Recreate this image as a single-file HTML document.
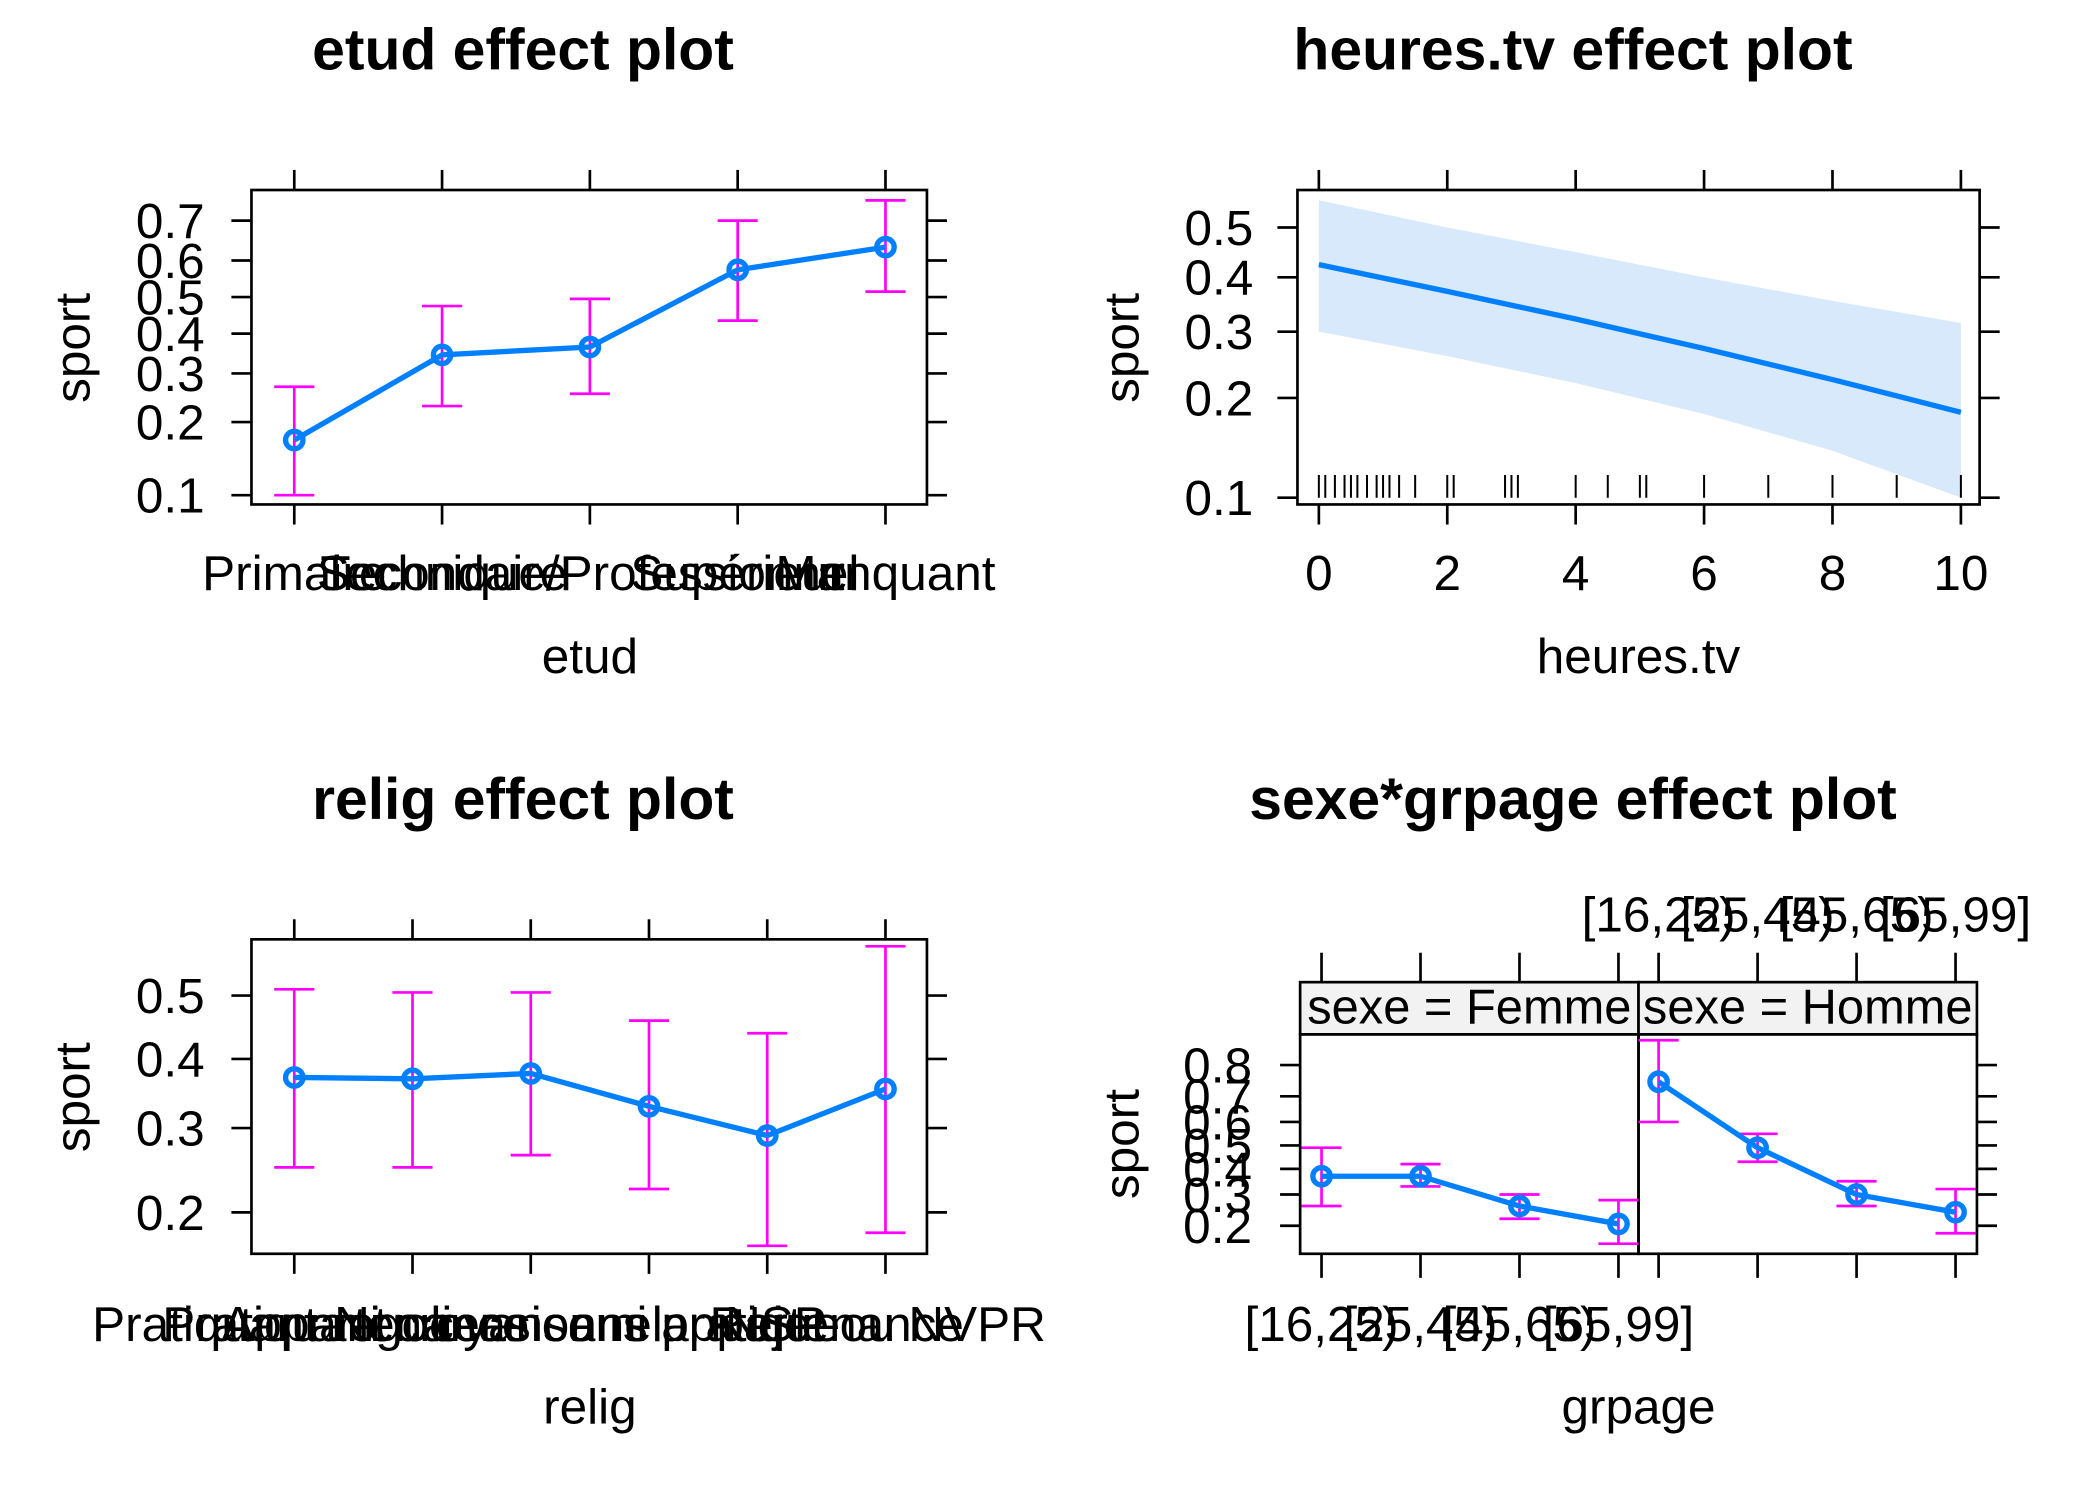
<!DOCTYPE html>
<html><head><meta charset="utf-8"><style>
html,body{margin:0;padding:0;background:#fff}
svg{display:block}
text{font-family:"Liberation Sans",Arial,sans-serif;fill:#000}
</style></head><body>
<svg id="c" width="2100" height="1500" viewBox="0 0 1570 1121" preserveAspectRatio="none" xmlns="http://www.w3.org/2000/svg"></svg>
<script>
// ---- data ----
const etudCats=["Primaire","Secondaire","Technique/Professionnel","Supérieur","Manquant"];
const etudFit=[0.17,0.345,0.365,0.575,0.635];
const etudLo=[0.10,0.23,0.255,0.435,0.515];
const etudHi=[0.27,0.475,0.495,0.70,0.745];
const etudTicks=[0.1,0.2,0.3,0.4,0.5,0.6,0.7];

const tvX=[0,2,4,6,8,10];
const tvFit=[0.425,0.373,0.322,0.272,0.225,0.182];
const tvLo=[0.30,0.26,0.22,0.18,0.14,0.10];
const tvHi=[0.555,0.50,0.45,0.40,0.355,0.315];
const tvRug=[0,0.1,0.25,0.4,0.5,0.6,0.75,0.9,1,1.1,1.25,1.5,2,2.1,2.9,3,3.1,4,4.5,5,5.1,6,7,8,9,10];
const tvXTicks=[0,2,4,6,8,10];
const tvYTicks=[0.1,0.2,0.3,0.4,0.5];

const religCats=["Pratiquant regulier","Pratiquant occasionnel","Appartenance sans pratique","Ni croyance ni appartenance","Rejet","NSP ou NVPR"];
const religFit=[0.372,0.37,0.378,0.33,0.29,0.355];
const religLo=[0.25,0.25,0.265,0.225,0.168,0.18];
const religHi=[0.51,0.505,0.505,0.46,0.44,0.578];
const religTicks=[0.2,0.3,0.4,0.5];

const ageCats=["[16,25)","[25,45)","[45,65)","[65,99]"];
const sexes=["Femme","Homme"];
const femFit=[0.37,0.37,0.26,0.205];
const femLo=[0.26,0.33,0.22,0.155];
const femHi=[0.49,0.42,0.30,0.28];
const homFit=[0.75,0.49,0.30,0.24];
const homLo=[0.60,0.43,0.26,0.18];
const homHi=[0.86,0.55,0.35,0.32];
const sgTicks=[0.2,0.3,0.4,0.5,0.6,0.7,0.8];

// ---- helpers ----
const svg=document.getElementById('c');
const NS="http://www.w3.org/2000/svg";
const TF=37;
function mk(tag,attrs,parent){const e=document.createElementNS(NS,tag);for(const k in attrs)e.setAttribute(k,attrs[k]);(parent||svg).appendChild(e);return e;}
function txt(s,x,y,size,anchor,parent,extra){const t=mk('text',Object.assign({x:x,y:y,'font-size':size,'text-anchor':anchor||'middle'},extra||{}),parent);t.textContent=s;return t;}
const logit=p=>Math.log(p/(1-p));
function yScale(center,k){return p=>center-k*logit(p);}
const BLUE="#0080ff",MAG="#ff00ff";

function drawBox(x0,y0,x1,y1,name){const r=mk('rect',{x:x0,y:y0,width:x1-x0,height:y1-y0,fill:'none',stroke:'#000','stroke-width':2});}
function line(x1,y1,x2,y2,col,w,parent){return mk('line',{x1:x1,y1:y1,x2:x2,y2:y2,stroke:col||'#000','stroke-width':w||2},parent);}

function yAxis(ticks,ys,xl,xr,labelX,name){
  const g=mk('g',{});
  ticks.forEach(v=>{const y=ys(v);line(xl-15,y,xl,y,'#000',2,g);line(xr,y,xr+15,y,'#000',2,g);txt(String(v),labelX,y+13,TF,'end',g);});
}
function errorPlot(xs,fit,lo,hi,ys,name){
  const g=mk('g',{});
  xs.forEach((x,i)=>{line(x,ys(lo[i]),x,ys(hi[i]),MAG,2,g);line(x-15,ys(lo[i]),x+15,ys(lo[i]),MAG,2,g);line(x-15,ys(hi[i]),x+15,ys(hi[i]),MAG,2,g);});
  const pl=mk('polyline',{points:xs.map((x,i)=>x+','+ys(fit[i])).join(' '),fill:'none',stroke:BLUE,'stroke-width':4},g);
  
  xs.forEach((x,i)=>{const c=mk('circle',{cx:x,cy:ys(fit[i]),r:6.5,fill:'none',stroke:BLUE,'stroke-width':4},g);});
}
function title(s,x,y,name){const t=txt(s,x,y,44,'middle',svg,{'font-weight':'bold'});}
function axTitle(s,x,y,name,rot){const t=txt(s,x,y,37,'middle',svg,rot?{transform:'rotate(-90 '+x+' '+y+')'}:{});}

// ---- panel 1: etud ----
(function(){
  const x0=188,x1=693,y0=142,y1=377;
  const xs=etudCats.map((c,i)=>220+i*(662-220)/(etudCats.length-1));
  const ys=yScale(222,67.4);
  title("etud effect plot",391,52,'etud-title');
  drawBox(x0,y0,x1,y1,'etud-plot-area');
  xs.forEach(x=>{line(x,127,x,y0);line(x,y1,x,392);});
  yAxis(etudTicks,ys,x0,x1,153,'etud-y-axis');
  const g=mk('g',{});
  etudCats.forEach((c,i)=>txt(c,xs[i],441,TF,'middle',g));
  errorPlot(xs,etudFit,etudLo,etudHi,ys,'etud-effect');
  axTitle("sport",67,260,'etud-y-title',true);
  axTitle("etud",441,503,'etud-x-title');
})();

// ---- panel 2: heures.tv ----
(function(){
  const x0=970,x1=1480,y0=142,y1=377;
  const xs=v=>986+v*(1466-986)/10;
  const ys=yScale(170,91.9);
  title("heures.tv effect plot",1176,52,'heures-tv-title');
  const pts=tvX.map((v,i)=>xs(v)+','+ys(tvHi[i])).concat(tvX.slice().reverse().map((v,j)=>{const i=tvX.length-1-j;return xs(v)+','+ys(tvLo[i]);}));
  const band=mk('polygon',{points:pts.join(' '),fill:'#d8e9fc',stroke:'none'});
  
  drawBox(x0,y0,x1,y1,'heures-tv-plot-area');
  tvXTicks.forEach(v=>{line(xs(v),127,xs(v),y0);line(xs(v),y1,xs(v),392);txt(String(v),xs(v),441,TF,'middle');});
  yAxis(tvYTicks,ys,x0,x1,937,'heures-tv-y-axis');
  const rg=mk('g',{});
  tvRug.forEach(v=>line(xs(v),355,xs(v),372,'#000',1.5,rg));
  const fl=mk('polyline',{points:tvX.map((v,i)=>xs(v)+','+ys(tvFit[i])).join(' '),fill:'none',stroke:BLUE,'stroke-width':4});
  
  axTitle("sport",851,260,'heures-tv-y-title',true);
  axTitle("heures.tv",1225,503,'heures-tv-x-title');
})();

// ---- panel 3: relig ----
(function(){
  const x0=188,x1=693,y0=702,y1=937;
  const xs=religCats.map((c,i)=>220+i*(662-220)/(religCats.length-1));
  const ys=yScale(744,116.9);
  title("relig effect plot",391,612,'relig-title');
  drawBox(x0,y0,x1,y1,'relig-plot-area');
  xs.forEach(x=>{line(x,687,x,y0);line(x,y1,x,952);});
  yAxis(religTicks,ys,x0,x1,153,'relig-y-axis');
  const g=mk('g',{});
  religCats.forEach((c,i)=>txt(c,xs[i],1002,TF,'middle',g));
  errorPlot(xs,religFit,religLo,religHi,ys,'relig-effect');
  axTitle("sport",67,820,'relig-y-title',true);
  axTitle("relig",441,1064,'relig-x-title');
})();

// ---- panel 4: sexe*grpage ----
(function(){
  const pl=[972,1225],pr=[1225,1478],y0=773,y1=937,sy=734;
  const ys=yScale(856,43.3);
  title("sexe*grpage effect plot",1176,612,'sexe-grpage-title');
  [0,1].forEach(p=>{
    const s=mk('rect',{x:pl[p],y:sy,width:pr[p]-pl[p],height:y0-sy,fill:'#f2f2f2',stroke:'#000','stroke-width':2});
    
    txt("sexe = "+sexes[p],(pl[p]+pr[p])/2,y0-8,36.5,'middle');
    drawBox(pl[p],y0,pr[p],y1,'panel-'+sexes[p].toLowerCase());
  });
  const xsF=ageCats.map((c,i)=>988+i*74),xsH=ageCats.map((c,i)=>1240+i*74);
  xsF.concat(xsH).forEach(x=>{line(x,712,x,sy);line(x,y1,x,955);});
  xsH.forEach((x,i)=>txt(ageCats[i],x,696,TF,'middle'));
  xsF.forEach((x,i)=>txt(ageCats[i],x,1002,TF,'middle'));
  yAxis(sgTicks,ys,972,1478,936,'sexe-grpage-y-axis');
  errorPlot(xsF,femFit,femLo,femHi,ys,'femme-effect');
  errorPlot(xsH,homFit,homLo,homHi,ys,'homme-effect');
  axTitle("sport",851,855,'sexe-grpage-y-title',true);
  axTitle("grpage",1225,1064,'grpage-x-title');
})();
</script>
</body></html>
